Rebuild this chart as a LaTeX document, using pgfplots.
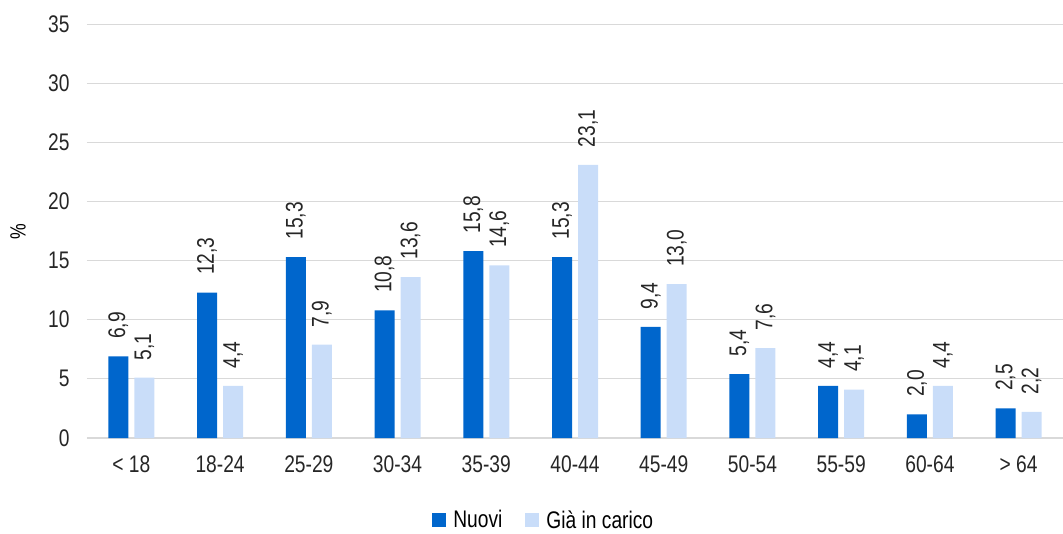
\documentclass[border=0pt]{standalone}
\usepackage{pgfplots}
\pgfplotsset{compat=1.18}
\usepackage{fontspec}
\setmainfont{Liberation Sans}[FakeStretch=0.8]
\definecolor{dblue}{HTML}{0066CC}
\definecolor{lblue}{HTML}{C9DDF9}
\definecolor{gridc}{HTML}{D9D9D9}
\begin{document}
\begin{tikzpicture}
\begin{axis}[
  scale only axis,
  width=976pt, height=414pt,
  xmin=-0.5, xmax=10.5,
  ymin=0, ymax=35,
  ytick={0,5,...,35},
  xtick=data,
  xticklabels={< 18,18-24,25-29,30-34,35-39,40-44,45-49,50-54,55-59,60-64,> 64},
  axis x line*=bottom,
  axis y line*=left,
  y axis line style={draw=none},
  x axis line style={draw=gridc, line width=1.2pt, -},
  ymajorgrids,
  grid style={draw=gridc, line width=1pt},
  major tick length=0pt,
  tick style={draw=none},
  ticklabel style={font=\fontsize{24}{28}\selectfont, text=black!85},
  yticklabel style={xshift=-14pt},
  xticklabel style={yshift=-14pt},
  /pgf/number format/assume math mode=true,
  ylabel={\%},
  ylabel style={font=\fontsize{22}{26}\selectfont, at={(axis description cs:-0.0707,0.498)}, anchor=center},
  ybar,
  bar width=20pt,
  clip=false,
  nodes near coords,
  every node near coord/.append style={rotate=90, anchor=west, font=\fontsize{24}{28}\selectfont, text=black!85, xshift=14pt},
  nodes near coords style={/pgf/number format/.cd, fixed, fixed zerofill, precision=1, use comma, assume math mode=true},
  legend style={at={(0.468,-0.198)}, anchor=center, draw=none, legend columns=2, font=\fontsize{24}{28}\selectfont, /tikz/every odd column/.append style={column sep=5pt}, /tikz/every even column/.append style={column sep=21pt}},
  legend image code/.code={\fill[#1] (0pt,-7pt) rectangle (14pt,7pt);},
]
\addplot[fill=dblue, draw=none, bar shift=-13pt] coordinates {(0,6.9) (1,12.3) (2,15.3) (3,10.8) (4,15.8) (5,15.3) (6,9.4) (7,5.4) (8,4.4) (9,2.0) (10,2.5)};
\addplot[fill=lblue, draw=none, bar shift=13pt] coordinates {(0,5.1) (1,4.4) (2,7.9) (3,13.6) (4,14.6) (5,23.1) (6,13.0) (7,7.6) (8,4.1) (9,4.4) (10,2.2)};
\legend{Nuovi, Già in carico}
\end{axis}
\pgfresetboundingbox
\path (-87pt,-95pt) rectangle (976pt,438pt);
\end{tikzpicture}
\end{document}
